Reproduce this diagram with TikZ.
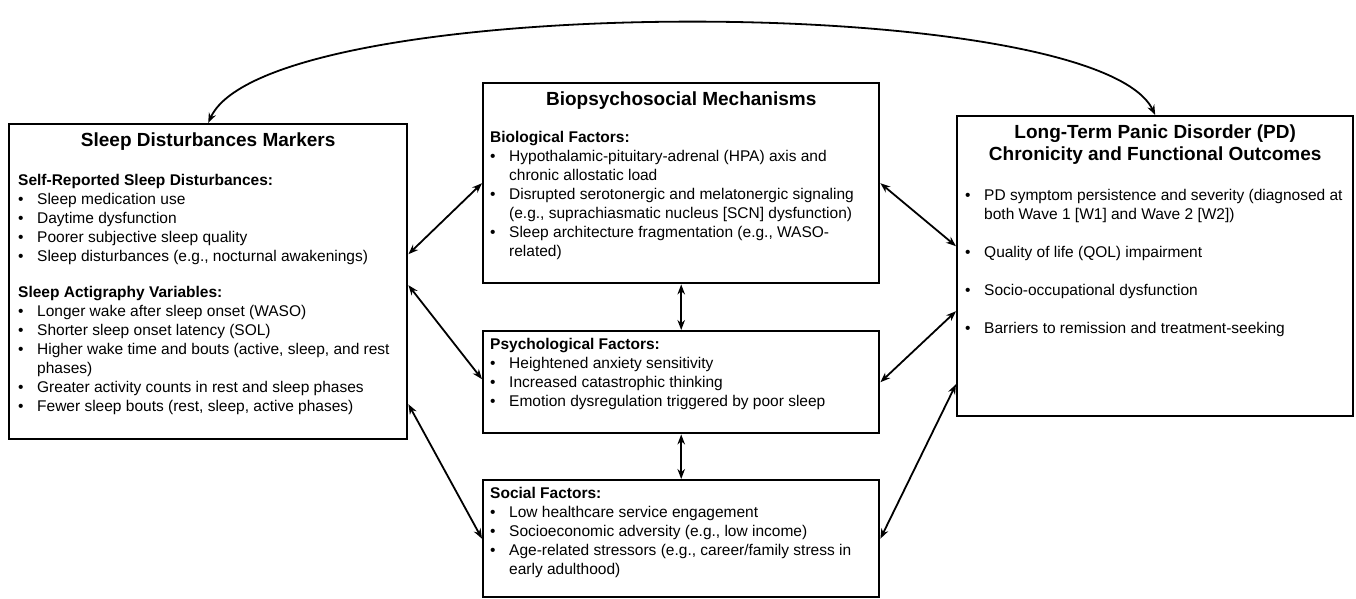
\documentclass[tikz,border=0pt]{standalone}
\usepackage{fontspec}
\setmainfont{Liberation Sans}
\usetikzlibrary{arrows.meta}
\newcommand{\bul}{\par\hangindent=19pt\hangafter=1\noindent\makebox[19pt][l]{\textbullet}}
\newcommand{\panel}[3]{\begin{minipage}[t][#2][t]{#1}\raggedright\fontsize{15.5}{19}\selectfont#3\end{minipage}}
\newcommand{\ttl}[1]{{\fontsize{19}{22}\selectfont\bfseries\centering\rule{0pt}{22pt}#1\par}}

\begin{document}
\begin{tikzpicture}[x=1pt,y=-1pt,
  box/.style={draw, line width=2.4pt, anchor=north west, inner ysep=0pt},
  link/.style={line width=1.8pt, {Stealth[length=\l, width=\w]}-{Stealth[length=\l, width=\w]}}]
\def\l{10pt}
\def\w{7.5pt}
\useasboundingbox (0,0) rectangle (1356,598);
% boxes
\node [box, inner xsep=9pt] (sleep) at (8,123) {\panel{380pt}{315pt}{%
\ttl{Sleep Disturbances Markers}
\vspace{20pt}
\noindent\textbf{Self-Reported Sleep Disturbances:}
\bul Sleep medication use
\bul Daytime dysfunction
\bul Poorer subjective sleep quality
\bul Sleep disturbances (e.g., nocturnal awakenings)
\par\vspace{17pt}
\noindent\textbf{Sleep Actigraphy Variables:}
\bul Longer wake after sleep onset (WASO)
\bul Shorter sleep onset latency (SOL)
\bul Higher wake time and bouts (active, sleep, and~rest\newline phases)
\bul Greater activity counts in rest and sleep phases
\bul Fewer sleep bouts (rest, sleep, active phases)}};
\node [box, inner xsep=7pt] (bio) at (482,82) {\panel{382pt}{200pt}{%
\ttl{Biopsychosocial Mechanisms}
\vspace{18pt}
\noindent\textbf{Biological Factors:}
\bul Hypothalamic-pituitary-adrenal (HPA) axis and\newline chronic allostatic load
\bul Disrupted serotonergic and melatonergic signaling\newline (e.g., suprachiasmatic nucleus [SCN] dysfunction)
\bul Sleep architecture fragmentation (e.g., WASO-\newline related)}};
\node [box, inner xsep=7pt] (psy) at (482,330) {\panel{382pt}{102pt}{%
\noindent\rule{0pt}{18pt}\textbf{Psychological Factors:}
\bul Heightened anxiety sensitivity
\bul Increased catastrophic thinking
\bul Emotion dysregulation triggered by poor sleep}};
\node [box, inner xsep=7pt] (soc) at (482,479) {\panel{382pt}{117pt}{%
\noindent\rule{0pt}{18pt}\textbf{Social Factors:}
\bul Low healthcare service engagement
\bul Socioeconomic adversity (e.g., low income)
\bul Age-related stressors (e.g., career/family stress in\newline early adulthood)}};
\node [box, inner xsep=8pt] (pd) at (956,115) {\panel{380pt}{300pt}{%
\ttl{Long-Term Panic Disorder (PD)\\Chronicity and Functional Outcomes}
\vspace{21pt}
\bul PD symptom persistence and severity (diagnosed~at\newline both Wave 1 [W1] and Wave 2 [W2])
\par\vspace{19pt}
\bul Quality of life (QOL) impairment
\par\vspace{19pt}
\bul Socio-occupational dysfunction
\par\vspace{19pt}
\bul Barriers to remission and treatment-seeking}};
% links
\draw [link] (sleep.north) .. controls +(60,-132) and +(-60,-124) .. (pd.north);
\draw [link] ([yshift=27.5pt]sleep.east) -- (bio.west);
\draw [link] ([yshift=-3.5pt]sleep.east) -- ([yshift=3pt]psy.west);
\draw [link] ([yshift=-122.5pt]sleep.east) -- (soc.west);
\draw [link] (bio.east) -- ([yshift=20pt]pd.west);
\draw [link] (psy.east) -- ([yshift=-45pt]pd.west);
\draw [link] (soc.east) -- ([yshift=-118pt]pd.west);
\draw [link] (bio.south) -- (psy.north);
\draw [link] (psy.south) -- (soc.north);
\end{tikzpicture}
\end{document}
